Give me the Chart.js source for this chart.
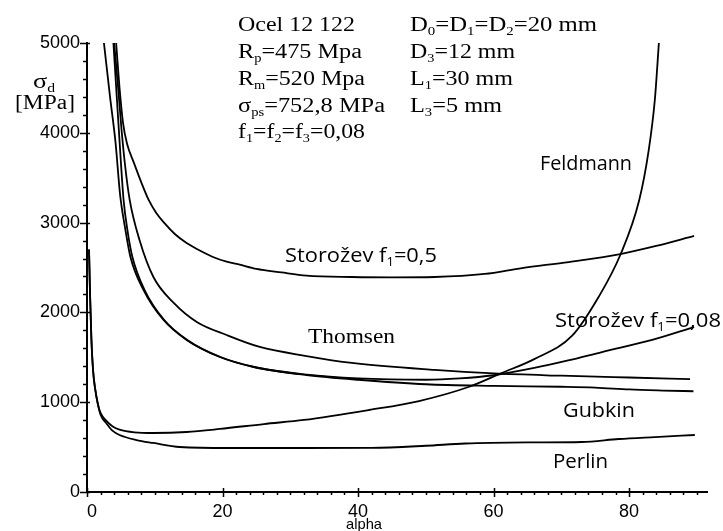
<!DOCTYPE html>
<html>
<head>
<meta charset="utf-8">
<script src="https://cdn.jsdelivr.net/npm/chart.js@4/dist/chart.umd.min.js"></script>
<style>
  html, body { margin: 0; padding: 0; background: #fff; }
  #wrap { width: 723px; height: 531px; }
</style>
</head>
<body>
<div id="wrap"><canvas id="c" width="723" height="531"></canvas></div>
<script>
// Die pressure sigma_d [MPa] versus die angle alpha [deg] for several theories.

const storozev05Alpha = [4.3, 4.8, 5.3, 5.9, 6.9, 8.0, 9.1, 10.2, 11.4, 13, 14.7, 16.5, 18.5, 20.6, 22.4, 25, 28.7, 32.4, 39.1, 45, 51.3, 58.7, 64.2, 71.1, 78.7, 84, 89.6];
const storozev05Sigma = [5000, 4500, 4120, 3880, 3670, 3450, 3252, 3110, 2996, 2870, 2773, 2695, 2620, 2565, 2535, 2485, 2445, 2410, 2394, 2390, 2394, 2428, 2494, 2561, 2650, 2740, 2851];

const thomsenAlpha = [4.0, 4.6, 5.1, 5.6, 6.3, 7.75, 9.8, 12.8, 16.2, 20.6, 25.5, 32.4, 39.1, 51.3, 60, 70, 80, 89];
const thomsenSigma = [5000, 4500, 4031, 3650, 3252, 2806, 2394, 2105, 1893, 1748, 1615, 1514, 1437, 1359, 1320, 1295, 1275, 1258];

const gubkinAlpha = [2.5, 3.4, 4.2, 4.9, 5.6, 6.4, 8.35, 11.3, 14.7, 19.6, 24.6, 32.4, 40, 50, 60, 70, 75, 80, 85, 89.5];
const gubkinSigma = [5000, 4400, 3900, 3300, 2950, 2620, 2249, 1915, 1693, 1503, 1392, 1303, 1250, 1200, 1182, 1172, 1163, 1142, 1130, 1122];

const storozev008Alpha = [3.9, 4.7, 5.4, 6.0, 6.7, 8.5, 11.4, 14.8, 19.7, 24.7, 32.4, 40, 50, 55, 60, 66, 71, 76, 83.4, 89.6];
const storozev008Sigma = [5000, 4031, 3252, 2900, 2617, 2249, 1915, 1693, 1503, 1392, 1306, 1265, 1250, 1265, 1300, 1381, 1465, 1559, 1693, 1837];

const feldmannAlpha = [0.3, 0.45, 0.65, 0.9, 1.2, 1.6, 2.0, 2.9, 3.8, 4.8, 7, 9.8, 14.7, 19.6, 26.1, 32, 41.6, 49, 56.3, 61.2, 66, 71.6, 75.5, 78.7, 81.5, 82.9, 83.8, 84.4];
const feldmannSigma = [2700, 2200, 1700, 1350, 1150, 980, 880, 790, 730, 695, 665, 657, 668, 702, 757, 802, 913, 1013, 1169, 1325, 1480, 1740, 2171, 2639, 3252, 3808, 4365, 5000];

const perlinAlpha = [0.3, 0.45, 0.65, 0.9, 1.2, 1.6, 2.0, 2.9, 3.8, 4.8, 7.3, 9.8, 13.7, 21, 32, 42, 50, 55.8, 65, 73, 78.5, 83.8, 89.7];
const perlinSigma = [2700, 2200, 1700, 1350, 1150, 980, 860, 760, 680, 635, 579, 546, 501, 490, 490, 492, 515, 540, 552, 557, 590, 612, 635];

const xTickValues = [0, 20, 40, 60, 80];
const yTickValues = [0, 1000, 2000, 3000, 4000, 5000];

const SERIF = '"Liberation Serif", "Times New Roman", serif';
const SANS = '"Open Sans", "Noto Sans", sans-serif';
const TICKSANS = '"Liberation Sans", Arial, sans-serif';

function pairs(xs, ys) { return xs.map((x, i) => ({ x: x, y: ys[i] })); }

function curve(label, xs, ys) {
  return {
    label: label,
    data: pairs(xs, ys),
    borderColor: '#000',
    borderWidth: 1.8,
    pointRadius: 0,
    fill: false,
    cubicInterpolationMode: 'monotone'
  };
}

// Text blocks: parts are [text, subscript?]; x = left, y = baseline, w = drawn width.
const textBlocks = [
  { parts: [['Ocel 12 122']], x: 238, y: 31, w: 117, size: 20, font: SERIF },
  { parts: [['R'], ['p', 1], ['=475 Mpa']], x: 238, y: 58, w: 124, size: 20, font: SERIF },
  { parts: [['R'], ['m', 1], ['=520 Mpa']], x: 238, y: 85, w: 127, size: 20, font: SERIF },
  { parts: [['σ'], ['ps', 1], ['=752,8 MPa']], x: 238, y: 112, w: 147, size: 20, font: SERIF },
  { parts: [['f'], ['1', 1], ['=f'], ['2', 1], ['=f'], ['3', 1], ['=0,08']], x: 238, y: 138, w: 127, size: 20, font: SERIF },
  { parts: [['D'], ['0', 1], ['=D'], ['1', 1], ['=D'], ['2', 1], ['=20 mm']], x: 410, y: 31, w: 187, size: 20, font: SERIF },
  { parts: [['D'], ['3', 1], ['=12 mm']], x: 410, y: 58, w: 105, size: 20, font: SERIF },
  { parts: [['L'], ['1', 1], ['=30 mm']], x: 410, y: 85, w: 103, size: 20, font: SERIF },
  { parts: [['L'], ['3', 1], ['=5 mm']], x: 410, y: 112, w: 92, size: 20, font: SERIF },
  { parts: [['σ'], ['d', 1]], x: 33, y: 88, w: 22, size: 20, font: SERIF },
  { parts: [['[MPa]']], x: 15, y: 109, w: 60, size: 20, font: SERIF },
  { parts: [['Feldmann']], x: 540, y: 170, w: 92, size: 20, font: SANS },
  { parts: [['Storožev f'], ['1', 1], ['=0,5']], x: 285, y: 262, w: 152, size: 20, font: SANS },
  { parts: [['Thomsen']], x: 308, y: 343, w: 87, size: 22, font: SERIF },
  { parts: [['Storožev f'], ['1', 1], ['=0,08']], x: 555, y: 327, w: 166, size: 20, font: SANS },
  { parts: [['Gubkin']], x: 563, y: 417, w: 72, size: 20, font: SANS },
  { parts: [['Perlin']], x: 553, y: 468, w: 55, size: 20, font: SANS },
  { parts: [['alpha']], x: 346, y: 529, w: 36, size: 15, font: TICKSANS }
];

function drawBlock(ctx, b) {
  const subSize = Math.round(b.size * 0.62);
  let total = 0;
  for (const p of b.parts) {
    ctx.font = (p[1] ? subSize : b.size) + 'px ' + b.font;
    total += ctx.measureText(p[0]).width;
  }
  const sx = b.w / total;
  ctx.save();
  ctx.translate(b.x, b.y);
  ctx.scale(sx, 1);
  ctx.fillStyle = '#000';
  ctx.textBaseline = 'alphabetic';
  ctx.textAlign = 'left';
  let cx = 0;
  for (const p of b.parts) {
    ctx.font = (p[1] ? subSize : b.size) + 'px ' + b.font;
    ctx.fillText(p[0], cx, p[1] ? b.size * 0.22 : 0);
    cx += ctx.measureText(p[0]).width;
  }
  ctx.restore();
}

const decorations = {
  id: 'decorations',
  afterDraw(chart) {
    const ctx = chart.ctx;
    const xs = chart.scales.x, ys = chart.scales.y;
    const left = chart.chartArea.left, bottom = chart.chartArea.bottom;
    ctx.save();
    ctx.strokeStyle = '#000';
    ctx.lineWidth = 1.5;
    ctx.beginPath();
    for (let v = 0; v <= 5000; v += 200) {
      const y = Math.round(ys.getPixelForValue(v)) + 0.5;
      if (v % 1000 === 0) { ctx.moveTo(left - 7, y); ctx.lineTo(left + 3, y); }
      else { ctx.moveTo(left - 4, y); ctx.lineTo(left, y); }
    }
    for (let v = 0; v <= 90; v += 2) {
      const x = Math.round(xs.getPixelForValue(v)) + 0.5;
      if (v % 20 === 0) { ctx.moveTo(x, bottom - 4); ctx.lineTo(x, bottom + 5); }
      else { ctx.moveTo(x, bottom); ctx.lineTo(x, bottom + 3); }
    }
    ctx.stroke();
    ctx.restore();
    for (const b of textBlocks) drawBlock(ctx, b);
  }
};

new Chart(document.getElementById('c'), {
  type: 'line',
  data: {
    datasets: [
      curve('Storožev f1=0,5', storozev05Alpha, storozev05Sigma),
      curve('Thomsen', thomsenAlpha, thomsenSigma),
      curve('Gubkin', gubkinAlpha, gubkinSigma),
      curve('Storožev f1=0,08', storozev008Alpha, storozev008Sigma),
      curve('Feldmann', feldmannAlpha, feldmannSigma),
      curve('Perlin', perlinAlpha, perlinSigma)
    ]
  },
  options: {
    responsive: false,
    devicePixelRatio: 1,
    animation: false,
    layout: { padding: { top: 43, right: 16, left: 0, bottom: 0 } },
    plugins: { legend: { display: false }, tooltip: { enabled: false } },
    scales: {
      x: {
        type: 'linear',
        min: 0, max: 91.5,
        afterBuildTicks(scale) { scale.ticks = xTickValues.map(v => ({ value: v })); },
        afterFit(scale) { scale.height = 39; },
        grid: { display: false, drawTicks: false },
        border: { display: true, color: '#000', width: 2 },
        ticks: {
          color: '#000', padding: 9, maxRotation: 0, autoSkip: false,
          font: { family: TICKSANS, size: 18 },
          callback: v => (v === 0 ? '  0' : String(v))
        }
      },
      y: {
        type: 'linear',
        min: 0, max: 5000,
        afterBuildTicks(scale) { scale.ticks = yTickValues.map(v => ({ value: v })); },
        afterFit(scale) { scale.width = 87; },
        grid: { display: false, drawTicks: false },
        border: { display: true, color: '#000', width: 2 },
        ticks: {
          color: '#000', padding: 7, autoSkip: false,
          font: { family: TICKSANS, size: 18 },
          callback: v => String(v)
        }
      }
    }
  },
  plugins: [decorations]
});
</script>
</body>
</html>
